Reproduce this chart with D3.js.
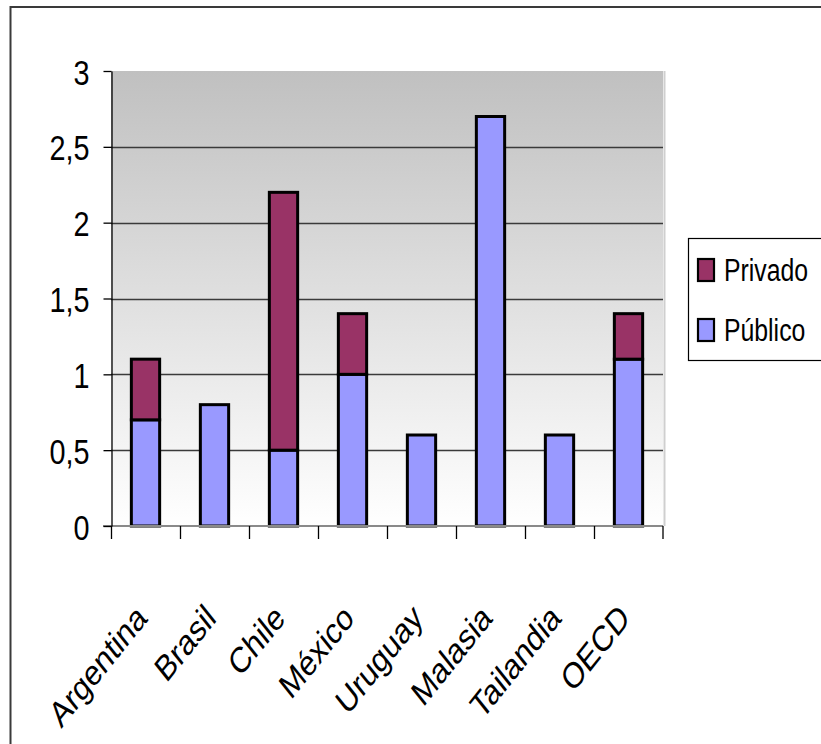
<!DOCTYPE html>
<html>
<head>
<meta charset="utf-8">
<script src="https://cdn.jsdelivr.net/npm/d3@7"></script>
<style>
  body { margin: 0; background: #fff; }
  text { font-family: "Liberation Sans", Arial, sans-serif; fill: #000; }
</style>
</head>
<body>
<svg id="chart"></svg>
<script>
// data
var categories = ["Argentina", "Brasil", "Chile", "México", "Uruguay", "Malasia", "Tailandia", "OECD"];
var publico = [0.7, 0.8, 0.5, 1.0, 0.6, 2.7, 0.6, 1.1];
var privado = [0.4, 0, 1.7, 0.4, 0, 0, 0, 0.3];
var seriesNames = ["Público", "Privado"];
var seriesColors = ["#9999ff", "#993366"];
var yTicks = [0, 0.5, 1, 1.5, 2, 2.5, 3];

var width = 821, height = 744;
var squeeze = 0.8; // text in the reference is narrowed horizontally

var svg = d3.select("#chart")
    .attr("width", width)
    .attr("height", height);

// outer chart border (only top & left visible in frame)
svg.append("rect")
    .attr("x", 10.5).attr("y", 7)
    .attr("width", width + 20).attr("height", height + 20)
    .attr("fill", "#fff")
    .attr("stroke", "#3a3a3a")
    .attr("stroke-width", 2);

var plot = {left: 111, right: 663, top: 71, bottom: 526};

var x = d3.scaleBand()
    .domain(categories)
    .range([plot.left, plot.right])
    .paddingInner(0.59)
    .paddingOuter(0.295);

var xTicks = d3.scaleBand()
    .domain(categories)
    .range([plot.left, plot.right]);

var y = d3.scaleLinear()
    .domain([0, 3])
    .range([plot.bottom, plot.top]);

// background gradient
var defs = svg.append("defs");
var grad = defs.append("linearGradient")
    .attr("id", "bg")
    .attr("x1", 0).attr("y1", 0).attr("x2", 0).attr("y2", 1);
grad.append("stop").attr("offset", "0%").attr("stop-color", "#c0c0c0");
grad.append("stop").attr("offset", "100%").attr("stop-color", "#ffffff");

svg.append("rect")
    .attr("x", plot.left).attr("y", plot.top)
    .attr("width", plot.right - plot.left)
    .attr("height", plot.bottom - plot.top)
    .attr("fill", "url(#bg)");

// right edge shadow of the plot area
svg.append("line")
    .attr("x1", plot.right + 1.5).attr("x2", plot.right + 1.5)
    .attr("y1", plot.top).attr("y2", plot.bottom)
    .attr("stroke", "#cfcfcf")
    .attr("stroke-width", 2);

// gridlines
svg.append("g")
    .selectAll("line")
    .data(yTicks.filter(function(d) { return d > 0 && d < 3; }))
    .enter().append("line")
    .attr("x1", plot.left).attr("x2", plot.right)
    .attr("y1", function(d) { return Math.round(y(d)) + 0.5; })
    .attr("y2", function(d) { return Math.round(y(d)) + 0.5; })
    .attr("stroke", "#3a3a3a")
    .attr("stroke-width", 1.3);

// stacked bars
var stackData = categories.map(function(c, i) {
  return {cat: c, "Público": publico[i], "Privado": privado[i]};
});
var stack = d3.stack().keys(seriesNames);
var layers = stack(stackData);

svg.append("g")
    .selectAll("g")
    .data(layers)
    .enter().append("g")
    .attr("fill", function(d, i) { return seriesColors[i]; })
    .selectAll("rect")
    .data(function(d) { return d.filter(function(p) { return p[1] - p[0] > 0; }); })
    .enter().append("rect")
    .attr("x", function(d) { return x(d.data.cat); })
    .attr("y", function(d) { return y(d[1]); })
    .attr("width", x.bandwidth())
    .attr("height", function(d) { return y(d[0]) - y(d[1]); })
    .attr("stroke", "#000")
    .attr("stroke-width", 3);

// zero line
svg.append("line")
    .attr("x1", plot.left - 8).attr("x2", plot.right)
    .attr("y1", plot.bottom).attr("y2", plot.bottom)
    .attr("stroke", "#8a8a8a")
    .attr("stroke-width", 2);

// y axis
var yAxis = svg.append("g")
    .attr("transform", "translate(" + (plot.left + 0.5) + ",0)")
    .call(d3.axisLeft(y).tickValues(yTicks).tickSize(8).tickSizeOuter(0)
      .tickFormat(function(d) { return String(d).replace(".", ","); }));
yAxis.select(".domain").attr("stroke", "#000").attr("stroke-width", 1.3);
yAxis.selectAll(".tick line").attr("stroke", "#000").attr("stroke-width", 1.3);
yAxis.selectAll(".tick text")
    .attr("x", null).attr("dy", null)
    .attr("transform", "translate(-22,13) scale(" + squeeze + ",1)")
    .style("font-size", "36px")
    .style("font-family", "'Liberation Sans', Arial, sans-serif")
    .attr("fill", "#000");

// x axis ticks at band boundaries
var xAxisG = svg.append("g")
    .attr("transform", "translate(0," + plot.bottom + ")");
xAxisG.selectAll("line")
    .data(categories.concat(["__end"]))
    .enter().append("line")
    .attr("x1", function(d) { return d === "__end" ? plot.right : Math.round(xTicks(d)) + 0.5; })
    .attr("x2", function(d) { return d === "__end" ? plot.right : Math.round(xTicks(d)) + 0.5; })
    .attr("y1", 0).attr("y2", 13)
    .attr("stroke", "#000")
    .attr("stroke-width", 1.3);

// x labels, rotated
svg.append("g")
    .selectAll("text")
    .data(categories)
    .enter().append("text")
    .attr("transform", function(d) {
      var cx = xTicks(d) + xTicks.bandwidth() / 2 + 3;
      return "translate(" + cx + ",620) scale(" + squeeze + ",1) rotate(-45)";
    })
    .attr("text-anchor", "end")
    .style("font-size", "36px")
    .text(function(d) { return d; });

// legend
var legend = svg.append("g");
legend.append("rect")
    .attr("x", 688.5).attr("y", 238.5)
    .attr("width", 160).attr("height", 122)
    .attr("fill", "#fff")
    .attr("stroke", "#000")
    .attr("stroke-width", 1.2);

var legendOrder = ["Privado", "Público"];
var legendY = d3.scalePoint().domain(legendOrder).range([270, 330]);

var item = legend.selectAll("g.item")
    .data(legendOrder)
    .enter().append("g")
    .attr("class", "item");

item.append("rect")
    .attr("x", 698)
    .attr("y", function(d) { return legendY(d) - 11; })
    .attr("width", 16).attr("height", 22)
    .attr("fill", function(d) { return seriesColors[seriesNames.indexOf(d)]; })
    .attr("stroke", "#000")
    .attr("stroke-width", 2.2);

item.append("text")
    .attr("transform", function(d) {
      return "translate(724," + (legendY(d) + 11) + ") scale(" + squeeze + ",1)";
    })
    .style("font-size", "31px")
    .text(function(d) { return d; });
</script>
</body>
</html>
